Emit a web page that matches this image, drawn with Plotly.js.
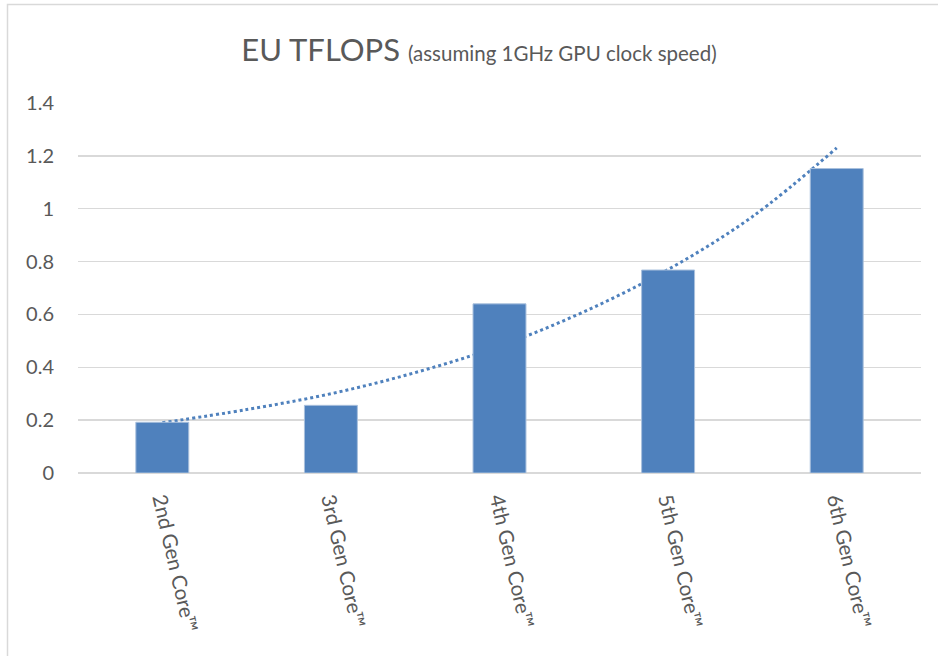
<!DOCTYPE html>
<html>
<head>
<meta charset="utf-8">
<script src="https://cdn.plot.ly/plotly-3.0.1.min.js"></script>
<style>html,body{margin:0;padding:0;background:#fff;}#chart{width:938px;height:656px;}</style>
</head>
<body>
<div id="chart"></div>
<script>
const categories = ["2nd Gen Core™", "3rd Gen Core™", "4th Gen Core™", "5th Gen Core™", "6th Gen Core™"];
const positions = [1, 2, 3, 4, 5];
const tflops = [0.192, 0.256, 0.64, 0.768, 1.152];
// exponential trendline
const trendX = [1, 1.5, 2, 2.5, 3, 3.5, 4, 4.5, 5];
const trendY = [0.19, 0.24, 0.30, 0.38, 0.48, 0.61, 0.77, 0.97, 1.23];
const yTicks = [0, 0.2, 0.4, 0.6, 0.8, 1, 1.2, 1.4];

const gray = '#595959';
const blue = '#4f81bd';

const data = [
  {
    type: 'scatter', mode: 'lines', x: trendX, y: trendY,
    line: {color: blue, width: 3, dash: 'dot', shape: 'spline'},
    hoverinfo: 'skip', zorder: 0, showlegend: false
  },
  {
    type: 'bar', x: positions, y: tflops,
    marker: {color: blue, line: {color: '#a9c0dd', width: 1}},
    zorder: 1, showlegend: false
  }
];

const L = 78, R = 921, T = 103, B = 473;
const W = R - L, H = B - T;

const layout = {
  width: 938, height: 656,
  margin: {l: L, r: 938 - R, t: T, b: 656 - B, pad: 0},
  paper_bgcolor: '#fff', plot_bgcolor: '#fff',
  font: {family: 'Lato, "Open Sans", sans-serif', color: gray},
  title: {
    text: 'EU TFLOPS <span style="font-size:20.5px">(assuming 1GHz GPU clock speed)</span>',
    font: {size: 31, color: gray, family: 'Lato, "Open Sans", sans-serif'},
    xref: 'container', x: 479 / 938, xanchor: 'center',
    yref: 'container', y: 1 - 50 / 656, yanchor: 'middle'
  },
  bargap: 0.686,
  xaxis: {
    type: 'linear', range: [0.5, 5.5],
    tickmode: 'array', tickvals: positions, ticktext: categories,
    tickangle: 77, tickfont: {size: 20.5, color: gray},
    showgrid: false, zeroline: false, showline: false, ticks: '',
    ticklabelstandoff: 10
  },
  yaxis: {
    range: [0, 1.4], tickmode: 'array', tickvals: yTicks,
    ticktext: yTicks.map(String),
    tickfont: {size: 20, color: gray},
    showgrid: true, gridcolor: '#d9d9d9', gridwidth: 1.5,
    zeroline: true, zerolinecolor: '#d9d9d9', zerolinewidth: 1.5,
    showline: false, ticks: '', ticklabelstandoff: 23
  },
  shapes: [{
    type: 'rect', xref: 'paper', yref: 'paper',
    x0: (7.5 - L) / W, x1: (960 - L) / W,
    y0: (B - 680) / H, y1: (B - 4.5) / H,
    line: {color: '#d9d9d9', width: 1.5}, fillcolor: 'rgba(0,0,0,0)', layer: 'below'
  }]
};

Plotly.newPlot('chart', data, layout, {displayModeBar: false, staticPlot: true});
</script>
</body>
</html>
